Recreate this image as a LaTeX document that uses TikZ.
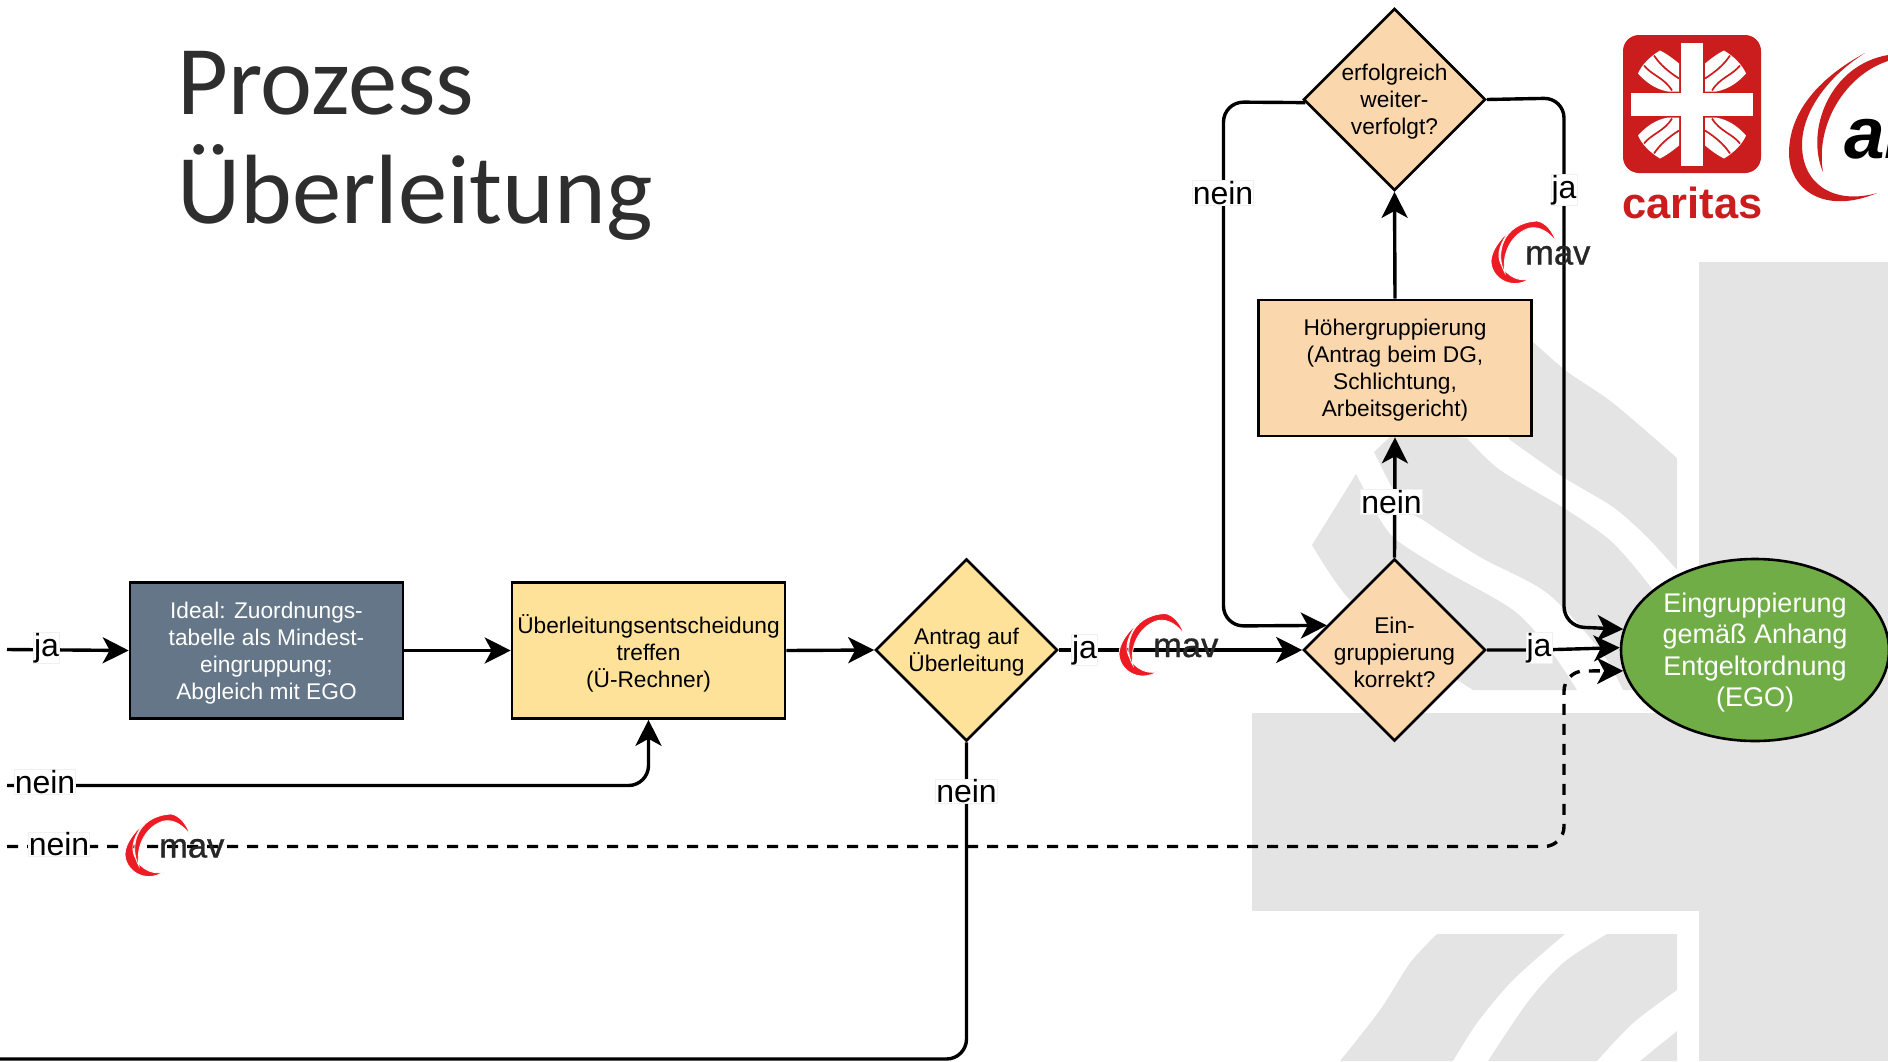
\documentclass[tikz,border=0pt]{standalone}
\usepackage{fontspec}
\setmainfont{Liberation Sans}
\newfontfamily\titlefont{Carlito}
\newfontfamily\mavfont[FakeBold=0.9]{Liberation Sans}
\usetikzlibrary{arrows.meta,shapes.geometric}
\definecolor{bggray}{HTML}{E4E4E4}
\definecolor{slatefill}{HTML}{647687}
\definecolor{yellowfill}{HTML}{FFE299}
\definecolor{orangefill}{HTML}{FAD7AC}
\definecolor{greenfill}{HTML}{70AD47}
\definecolor{caritasred}{HTML}{CB1D1D}
\definecolor{mavred}{HTML}{ED1C24}
\tikzset{
  bgshape/.style={fill=bggray,draw=none},
  boxnode/.style={rectangle,draw=black,line width=2.6,inner sep=0,minimum width=273,minimum height=136},
  decision/.style={diamond,aspect=1,draw=black,line width=2.6,fill=orangefill,inner sep=0,minimum size=182},
  nodetext/.style={align=center,font=\fontsize{22.7}{27}\selectfont,inner sep=0,yshift=-2.5},
  conn/.style={line width=3.4,rounded corners=20,-{Stealth[length=26,width=26,inset=7]}},
  plainconn/.style={line width=3.4,rounded corners=20},
  dashconn/.style={line width=3.4,rounded corners=20,dash pattern=on 11 off 9,-{Stealth[length=26,width=26,inset=7]}},
  flowlabel/.style={fill=white,draw=black!6,line width=0.6,inner sep=0.5,font=\fontsize{32}{36}\selectfont},
  mavlogo/.pic={
    \fill[mavred,draw=white,line width=0.8] (32,0) .. controls (10,12) and (-1,30) .. (-1,40) .. controls (-1,56) and (18,70) .. (38,58) .. controls (25,62) and (9,52) .. (7,36) .. controls (6,25) and (15,8) .. (32,0) -- cycle;
    \fill[mavred,draw=white,line width=0.8] (13,52) .. controls (3,35) and (9,2) .. (45,0) .. controls (53,1) and (61,10) .. (64,21) .. controls (58,12) and (48,5) .. (38,7) .. controls (22,11) and (9,30) .. (13,52) -- cycle;
    \node[anchor=base west,inner sep=0,text=black!85,font=\mavfont\fontsize{34.5}{36}\selectfont] (txt) at (33,43.5) {mav};
  }
}
\begin{document}
\begin{tikzpicture}[x=1pt,y=-1pt]
\useasboundingbox (0,0) rectangle (1888,1061);
\clip (0,0) rectangle (1888,1061);
% background Caritas cross
\fill[bgshape] (1699,262) rectangle (1888,1061);
\fill[bgshape] (1252,712.5) rectangle (1699,911);
\fill[bgshape] plot[smooth] coordinates {(1520,330) (1565,370) (1613,403) (1677,458)} -- (1677,570) -- plot[smooth] coordinates {(1677,570) (1647,537) (1613,507) (1563,477) (1510,440)} -- (1490,400) -- cycle;
\fill[bgshape] (1374,452) -- (1395,432) -- plot[smooth] coordinates {(1467,438) (1500,470) (1567,510) (1613,543) (1653,590) (1677,625)} -- (1677,690) -- plot[smooth] coordinates {(1623,690) (1600,650) (1547,593) (1480,557) (1423,520) (1403,507) (1374,452)} -- cycle;
\fill[bgshape] (1356,474) -- plot[smooth] coordinates {(1372,505) (1393,537) (1440,568) (1513,610) (1550,650) (1577,690)} -- (1473,690) -- plot[smooth] coordinates {(1473,690) (1420,655) (1350,600) (1312,545)} -- cycle;
\fill[bgshape] (1437,934) -- (1565,934) -- plot[smooth] coordinates {(1565,934) (1513,980) (1477,1023) (1453,1061)} -- (1340,1061) -- plot[smooth] coordinates {(1340,1061) (1380,1010) (1410,963) (1437,934)} -- cycle;
\fill[bgshape] (1607,934) -- (1677,934) -- (1677,990) -- plot[smooth] coordinates {(1677,990) (1633,1023) (1597,1061)} -- (1488,1061) -- plot[smooth] coordinates {(1488,1061) (1527,1003) (1563,963) (1607,934)} -- cycle;
\fill[bgshape] (1677,1031) -- (1640,1061) -- (1677,1061) -- cycle;
% title
\node[anchor=base west,inner sep=0,text=black!82,font=\titlefont\fontsize{98.5}{108}\selectfont] (titleA) at (177,114) {Prozess};
\node[anchor=base west,inner sep=0,text=black!82,font=\titlefont\fontsize{98.5}{108}\selectfont] (titleB) at (177,223) {Überleitung};
% nodes
\node[boxnode,fill=slatefill,label={[nodetext,text=white]center:Ideal: Zuordnungs-\\tabelle als Mindest-\\eingruppung;\\Abgleich mit EGO}] (ideal) at (266.5,650.5) {};
\node[boxnode,fill=yellowfill,label={[nodetext]center:Überleitungsentscheidung\\treffen\\(Ü-Rechner)}] (ueber) at (648.5,650.5) {};
\node[decision,fill=yellowfill,label={[nodetext]center:Antrag auf\\Überleitung}] (antrag) at (966.5,650) {};
\node[decision,label={[nodetext]center:Ein-\\gruppierung\\korrekt?}] (korrekt) at (1394.5,650) {};
\node[decision,label={[nodetext]center:erfolgreich\\weiter-\\verfolgt?}] (erfolg) at (1394.5,99.5) {};
\node[boxnode,fill=orangefill,label={[nodetext]center:Höhergruppierung\\(Antrag beim DG,\\Schlichtung,\\Arbeitsgericht)}] (hoeher) at (1395,368) {};
\node[ellipse,draw=black,line width=2.6,fill=greenfill,inner sep=0,minimum width=268,minimum height=182,label={[nodetext,text=white,font=\fontsize{27}{31.5}\selectfont]center:Eingruppierung\\gemäß Anhang\\Entgeltordnung\\(EGO)}] (ego) at (1755,650) {};
% free ends and bends
\coordinate (startJa) at (7,649.5);
\coordinate (startNein) at (7,785.5);
\coordinate (startDash) at (7,846.5);
\coordinate (bendNein) at (648.5,785.5);
\coordinate (dashA) at (1564,846.5);
\coordinate (dashB) at (1564,671);
\coordinate (loopA) at (1223.5,102);
\coordinate (loopB) at (1223.5,626);
\coordinate (jaA) at (1564,98);
\coordinate (jaB) at (1564,626.5);
\coordinate (botA) at (966.5,1059);
\coordinate (botB) at (0,1059);
\coordinate (jaMid) at (1539,650);
% connectors
\draw[conn] (startJa) -- (ideal.west);
\draw[conn] (ideal.east) -- (ueber.west);
\draw[conn] (ueber.east) -- (antrag.west);
\draw[conn] (startNein) -- (bendNein) -- (ueber.south);
\draw[dashconn] (startDash) -- (dashA) -- (dashB) -- (ego.189);
\draw[plainconn] (antrag.south) -- (botA) -- (botB);
\draw[conn] (antrag.east) -- (korrekt.west);
\draw[conn] (korrekt.north) -- (hoeher.south);
\draw[conn] (hoeher.north) -- (erfolg.south);
\draw[conn] (erfolg.182) -- (loopA) -- (loopB) -- (korrekt.160);
\draw[conn] (erfolg.east) -- (jaA) -- (jaB) -- (ego.171);
\draw[conn,rounded corners=0] (korrekt.east) -- (jaMid) -- (ego.179);
% labels
\node[flowlabel] (lblJaA) at (46.5,648) {ja};
\node[flowlabel] (lblNeinA) at (45,782) {nein};
\node[flowlabel] (lblNeinB) at (59,844.5) {nein};
\node[flowlabel] (lblJaB) at (1084.5,650) {ja};
\node[flowlabel] (lblNeinC) at (966.5,791.5) {nein};
\node[flowlabel] (lblNeinD) at (1391.5,502) {nein};
\node[flowlabel] (lblNeinE) at (1223,193) {nein};
\node[flowlabel] (lblJaC) at (1564,190) {ja};
\node[flowlabel] (lblJaD) at (1539,648) {ja};
% mav logos
\pic (mavA) at (1120,613.5) {mavlogo};
\pic (mavB) at (1492,221) {mavlogo};
\pic (mavC) at (126,814) {mavlogo};
% caritas logo
\fill[caritasred,rounded corners=16] (1623,35) rectangle (1761,173);
\fill[white] (1681,43) rectangle (1703,166);
\fill[white] (1631,93) rectangle (1753,116);
\foreach \sx/\sy in {1/1,-1/1,1/-1,-1/-1}{
  \begin{scope}[shift={(1692,104.5)},xscale=\sx,yscale=\sy]
    \fill[white] (-32,-54) .. controls (-24,-50) and (-18,-45) .. (-13,-41) -- (-13,-13) -- (-24,-13) .. controls (-36,-15) and (-46,-22) .. (-54,-31) .. controls (-50,-40) and (-42,-48) .. (-32,-54) -- cycle;
    \draw[caritasred,line width=1.7] (-38,-49) .. controls (-32,-40) and (-24,-33) .. (-13,-26);
    \draw[caritasred,line width=1.7] (-48,-39) .. controls (-40,-29) and (-28,-27) .. (-20,-14);
  \end{scope}
}
\node[anchor=base west,inner sep=0,text=caritasred,font=\bfseries\fontsize{43.5}{45}\selectfont] (caritasText) at (1622,218) {caritas};
% right logo
\fill[caritasred] (1865,53) .. controls (1815,80) and (1789,115) .. (1789,153) .. controls (1789,190) and (1825,215) .. (1877,193) .. controls (1835,205) and (1802,185) .. (1802,145) .. controls (1802,110) and (1830,75) .. (1865,53) -- cycle;
\fill[caritasred] (1823,172) .. controls (1805,130) and (1830,65) .. (1888,55) -- (1888,61) .. controls (1845,75) and (1815,125) .. (1823,172) -- cycle;
\node[anchor=base west,inner sep=0,font=\bfseries\itshape\fontsize{73}{75}\selectfont] (logoText) at (1844,158) {ar};
\end{tikzpicture}
\end{document}
